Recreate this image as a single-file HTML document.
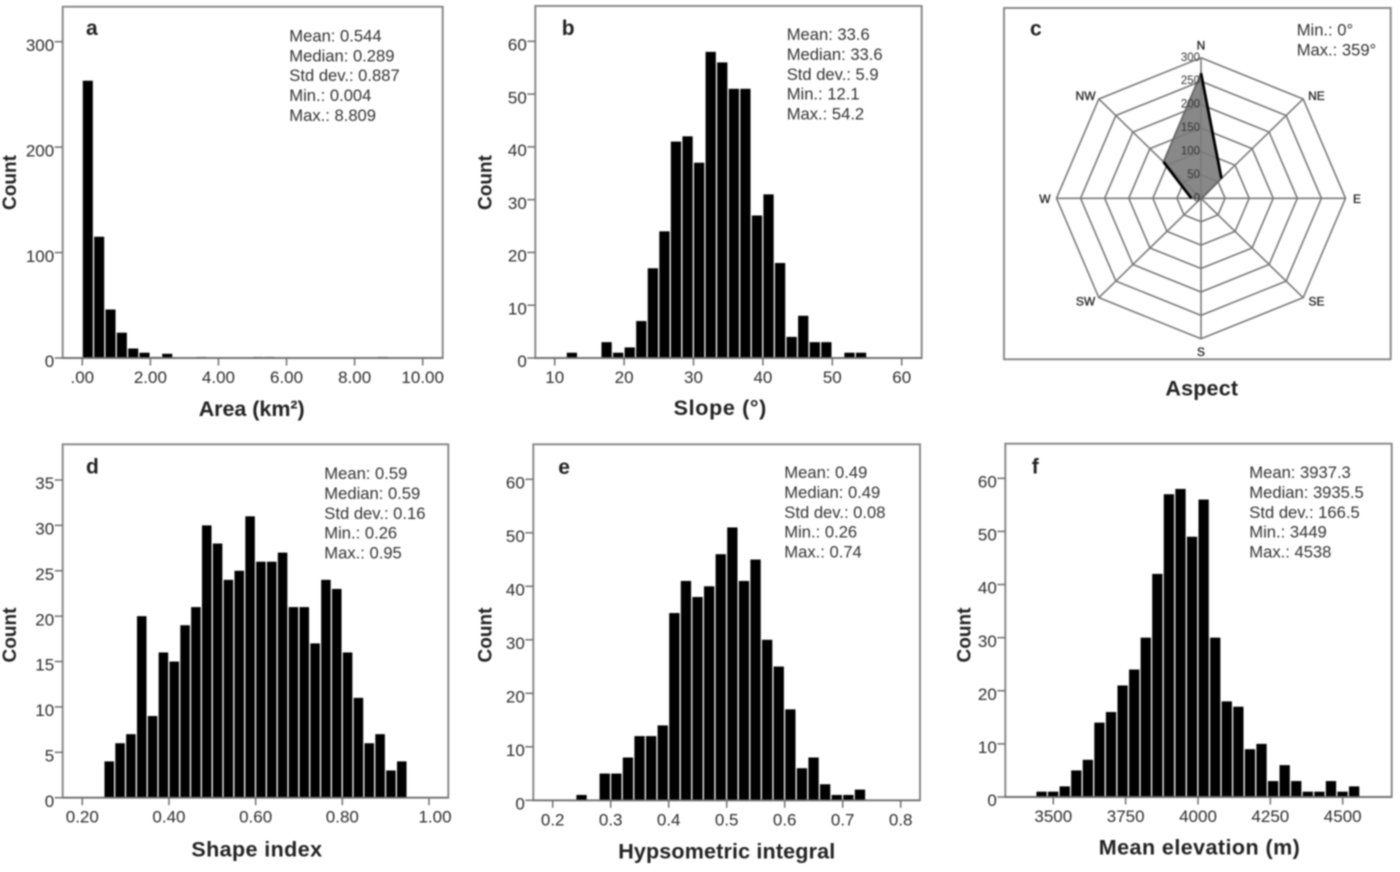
<!DOCTYPE html>
<html lang="en">
<head>
<meta charset="utf-8">
<title>Histograms of glacier morphometric attributes</title>
<style>
  html, body { margin: 0; padding: 0; background: #fff; }
  #figure { display: block; width: 1400px; height: 872px; filter: blur(0.7px); font-family: "Liberation Sans", sans-serif; }
</style>
</head>
<body>
<svg id="figure" xmlns="http://www.w3.org/2000/svg" width="1400" height="872" viewBox="0 0 1400 872">
  <rect x="0" y="0" width="1400" height="872" fill="#ffffff"></rect>
</svg>
<script>
// ---- Panel a: Area
const areaCounts = [263, 115, 46, 24, 9, 5, 1, 4, 0, 0, 1, 0, 0, 0, 0, 1, 1, 0, 0, 0, 0, 0, 0, 0, 0, 0, 1];
const areaXTicks = [0, 2, 4, 6, 8, 10];
const areaXLabels = [".00", "2.00", "4.00", "6.00", "8.00", "10.00"];
const areaYTicks = [0, 100, 200, 300];
const areaStats = ["Mean: 0.544", "Median: 0.289", "Std dev.: 0.887", "Min.: 0.004", "Max.: 8.809"];

// ---- Panel b: Slope
const slopeCounts = [0, 1, 0, 0, 3, 1, 2, 7, 17, 24, 41, 42, 37, 58, 56, 51, 51, 27, 31, 18, 4, 8, 3, 3, 0, 1, 1];
const slopeXTicks = [10, 20, 30, 40, 50, 60];
const slopeXLabels = ["10", "20", "30", "40", "50", "60"];
const slopeYTicks = [0, 10, 20, 30, 40, 50, 60];
const slopeStats = ["Mean: 33.6", "Median: 33.6", "Std dev.: 5.9", "Min.: 12.1", "Max.: 54.2"];

// ---- Panel c: Aspect (radar)
const aspectDirections = ["N", "NE", "E", "SE", "S", "SW", "W", "NW"];
const aspectCounts = [267, 60, 2, 1, 1, 2, 20, 110];
const aspectRingTicks = [50, 100, 150, 200, 250, 300];
const aspectRingLabels = ["0", "50", "100", "150", "200", "250", "300"];
const aspectStats = ["Min.: 0\u00b0", "Max.: 359\u00b0"];

// ---- Panel d: Shape index
const shapeCounts = [4, 6, 7, 20, 9, 16, 15, 19, 21, 30, 28, 24, 25, 31, 26, 26, 27, 21, 21, 17, 24, 23, 16, 11, 6, 7, 3, 4];
const shapeXTicks = [0.2, 0.4, 0.6, 0.8, 1.0];
const shapeXLabels = ["0.20", "0.40", "0.60", "0.80", "1.00"];
const shapeYTicks = [0, 5, 10, 15, 20, 25, 30, 35];
const shapeStats = ["Mean: 0.59", "Median: 0.59", "Std dev.: 0.16", "Min.: 0.26", "Max.: 0.95"];

// ---- Panel e: Hypsometric integral
const hypsoCounts = [1, 0, 5, 5, 8, 12, 12, 14, 35, 41, 38, 40, 46, 51, 41, 45, 30, 25, 17, 6, 8, 3, 1, 1, 2];
const hypsoXTicks = [0.2, 0.3, 0.4, 0.5, 0.6, 0.7, 0.8];
const hypsoXLabels = ["0.2", "0.3", "0.4", "0.5", "0.6", "0.7", "0.8"];
const hypsoYTicks = [0, 10, 20, 30, 40, 50, 60];
const hypsoStats = ["Mean: 0.49", "Median: 0.49", "Std dev.: 0.08", "Min.: 0.26", "Max.: 0.74"];

// ---- Panel f: Mean elevation
const elevCounts = [1, 1, 2, 5, 7, 14, 16, 21, 24, 30, 42, 57, 58, 49, 56, 30, 18, 17, 9, 10, 3, 6, 3, 1, 1, 3, 1, 2];
const elevXTicks = [3500, 3750, 4000, 4250, 4500];
const elevXLabels = ["3500", "3750", "4000", "4250", "4500"];
const elevYTicks = [0, 10, 20, 30, 40, 50, 60];
const elevStats = ["Mean: 3937.3", "Median: 3935.5", "Std dev.: 166.5", "Min.: 3449", "Max.: 4538"];

const svgNS = "http://www.w3.org/2000/svg";
const root = document.getElementById("figure");
const GRID_COLOR = "#7a7a7a";
const FRAME_COLOR = "#858585";
const TEXT_COLOR = "#2c2c2c";

function linear(d0, d1, p0, p1) {
  return function (v) { return p0 + (v - d0) * (p1 - p0) / (d1 - d0); };
}

function shape(parent, tag, attrs, content) {
  const el = document.createElementNS(svgNS, tag);
  for (const key in attrs) { el.setAttribute(key, attrs[key]); }
  if (content !== undefined) { el.textContent = content; }
  parent.appendChild(el);
  return el;
}

function line(parent, x1, y1, x2, y2, color, width) {
  return shape(parent, "line", { x1: x1, y1: y1, x2: x2, y2: y2, stroke: color, "stroke-width": width });
}

function addFrame(parent, f) {
  const el = shape(parent, "rect", { x: f.l, y: f.t, width: f.r - f.l, height: f.b - f.t, fill: "#ffffff", stroke: FRAME_COLOR, "stroke-width": 1.9 });
  
  
}

function addPanelLetter(parent, letter, pos) {
  const el = shape(parent, "text", { x: pos[0], y: pos[1], "font-size": 21, "font-weight": "bold", fill: "#222" }, letter);
  
  
}

function addStats(parent, lines, pos) {
  const group = shape(parent, "g", {});
  
  
  lines.forEach(function (txt, i) {
    const el = shape(group, "text", { x: pos[0], y: pos[1] + 0.7 + i * 19.9, "font-size": 16.6, fill: "#333" }, txt);
    
    
  });
}

function addXTitle(parent, label) {
  const el = shape(parent, "text", { x: label.x, y: label.y, "font-size": 21.5, "font-weight": "bold", fill: "#222", "text-anchor": "middle", textLength: label.len }, label.text);
  
  
}

function addYTitle(parent, pos) {
  const el = shape(parent, "text", { transform: "translate(" + pos[0] + "," + pos[1] + ") rotate(-90)", "font-size": 19, "font-weight": "bold", fill: "#222", "text-anchor": "middle" }, "Count");
  
  
}

function drawHistogram(cfg) {
  const panel = shape(root, "g", {});
  
  
  const f = cfg.frame;
  const xScale = linear(cfg.xAnchor[0], cfg.xAnchor[1], cfg.xAnchor[2], cfg.xAnchor[3]);
  const yScale = linear(0, cfg.yAnchor[0], f.b, cfg.yAnchor[1]);

  addFrame(panel, f);

  // Bars
  const bars = shape(panel, "g", {});
  
  
  cfg.counts.forEach(function (count, i) {
    if (count <= 0) { return; }
    const x0 = xScale(cfg.binStart + i * cfg.binWidth);
    const x1 = xScale(cfg.binStart + (i + 1) * cfg.binWidth);
    const top = yScale(count);
    const bar = shape(bars, "rect", { x: x0 + 0.5, y: top, width: x1 - x0 - 1.3, height: f.b - top, fill: "#000000" });
    
    
  });

  // Baseline
  const base = line(panel, f.l, f.b, f.r, f.b, "#6f6f6f", 1.7);
  
  

  // Y axis
  cfg.yTicks.forEach(function (v) {
    const y = yScale(v);
    const t = line(panel, f.l - 8, y, f.l, y, "#6f6f6f", 1.5);
    
    
    const lab = shape(panel, "text", { x: f.l - 8.5, y: y + 9.2, "font-size": 17, fill: TEXT_COLOR, "text-anchor": "end" }, String(v));
    
    
  });

  // X axis
  cfg.xTicks.forEach(function (v, i) {
    const x = xScale(v);
    const t = line(panel, x, f.b, x, f.b + 7.5, "#6f6f6f", 1.5);
    
    
    const shift = (i === cfg.xTicks.length - 1 && cfg.lastLabelShift) ? cfg.lastLabelShift : 0;
    const lab = shape(panel, "text", { x: x + shift, y: f.b + 25, "font-size": 17, fill: TEXT_COLOR, "text-anchor": "middle" }, cfg.xLabels[i]);
    
    
  });

  addPanelLetter(panel, cfg.letter, cfg.letterPos);
  addStats(panel, cfg.stats, cfg.statsPos);
  addXTitle(panel, cfg.xTitle);
  addYTitle(panel, cfg.yTitlePos);
}

function drawRadar() {
  const panel = shape(root, "g", {});
  
  
  const f = { l: 1004, r: 1390.7, t: 8, b: 359.3 };
  const cx = 1201, cy = 198.3, rx = 144.5, ry = 140.5, maxV = 300;
  addFrame(panel, f);

  function point(dirIndex, value, fx, fy) {
    const angle = dirIndex * Math.PI / 4;
    const k = value / maxV;
    return [cx + rx * k * (fx || 1) * Math.sin(angle), cy - ry * k * (fy || 1) * Math.cos(angle)];
  }
  function pointList(values) {
    return values.map(function (v, i) { return point(i, v).join(","); }).join(" ");
  }

  // Filled data polygon
  const area = shape(panel, "polygon", { points: pointList(aspectCounts), fill: "#888888", stroke: "none" });
  
  

  // Rings
  aspectRingTicks.forEach(function (v) {
    const ring = shape(panel, "polygon", { points: pointList(aspectDirections.map(function () { return v; })), fill: "none", stroke: GRID_COLOR, "stroke-width": 1.6 });
    
    
  });

  // Spokes and compass labels
  aspectDirections.forEach(function (dir, i) {
    const end = point(i, maxV);
    const spoke = line(panel, cx, cy, end[0], end[1], GRID_COLOR, 1.6);
    
    
    const lp = i % 2 ? point(i, maxV, 1.13, 1.035) : point(i, maxV, 1.08, 1.09);
    const lab = shape(panel, "text", { x: lp[0], y: lp[1] + 4.5, "font-size": 12, fill: "#222", "text-anchor": "middle", stroke: "#222", "stroke-width": 0.3 }, dir);
    
    
  });

  // Outline: heavier grey overall, black on the N-NE and NW-W edges
  const outline = shape(panel, "polygon", { points: pointList(aspectCounts), fill: "none", stroke: "#666", "stroke-width": 1.8 });
  
  
  const n = point(0, aspectCounts[0]), ne = point(1, aspectCounts[1]);
  const w = point(6, aspectCounts[6]), nw = point(7, aspectCounts[7]);
  const edge1 = line(panel, n[0], n[1], ne[0], ne[1], "#000", 2.8);
  
  
  const edge2 = line(panel, nw[0], nw[1], w[0], w[1], "#000", 2.8);
  
  

  // Ring value labels
  aspectRingLabels.forEach(function (txt, i) {
    const y = point(0, i * 50)[1];
    const lab = shape(panel, "text", { x: cx - 1, y: y + 3, "font-size": 11.5, fill: "#333", "text-anchor": "end" }, txt);
    
    
  });

  addPanelLetter(panel, "c", [1030, 35.7]);
  addStats(panel, aspectStats, [1296.7, 35]);
  addXTitle(panel, { text: "Aspect", x: 1201.7, y: 395.7, len: 72.7 });
}

drawHistogram({
  name: "panel-a-area", letter: "a", letterPos: [86, 35],
  frame: { l: 62.7, r: 442.7, t: 6.7, b: 358 },
  counts: areaCounts, binStart: 0, binWidth: 1 / 3,
  xAnchor: [0, 10, 82.3, 422.7], yAnchor: [300, 41.7],
  xTicks: areaXTicks, xLabels: areaXLabels, yTicks: areaYTicks,
  stats: areaStats, statsPos: [289.3, 40.7],
  xTitle: { text: "Area (km\u00b2)", x: 251.7, y: 416, len: 106 }, yTitlePos: [16, 182.5]
});

drawHistogram({
  name: "panel-b-slope", letter: "b", letterPos: [561.7, 35],
  frame: { l: 535.3, r: 921.7, t: 6, b: 358 },
  counts: slopeCounts, binStart: 10, binWidth: 5 / 3,
  xAnchor: [10, 60, 554.7, 901.7], yAnchor: [60, 41.3],
  xTicks: slopeXTicks, xLabels: slopeXLabels, yTicks: slopeYTicks,
  stats: slopeStats, statsPos: [786.7, 39.3],
  xTitle: { text: "Slope (\u00b0)", x: 720, y: 415, len: 92.7 }, yTitlePos: [491.7, 182.5]
});

drawRadar();

drawHistogram({
  name: "panel-d-shape-index", letter: "d", letterPos: [86, 473.3],
  frame: { l: 62.7, r: 448.3, t: 444.3, b: 797.7 },
  counts: shapeCounts, binStart: 0.25, binWidth: 0.025,
  xAnchor: [0.2, 1.0, 82.3, 429], yAnchor: [35, 480],
  xTicks: shapeXTicks, xLabels: shapeXLabels, yTicks: shapeYTicks, lastLabelShift: 6,
  stats: shapeStats, statsPos: [324.3, 478.3],
  xTitle: { text: "Shape index", x: 256.7, y: 856.7, len: 130.7 }, yTitlePos: [16, 635]
});

drawHistogram({
  name: "panel-e-hypsometric-integral", letter: "e", letterPos: [558.3, 474],
  frame: { l: 533.3, r: 920, t: 444.3, b: 800.3 },
  counts: hypsoCounts, binStart: 0.24, binWidth: 0.02,
  xAnchor: [0.2, 0.8, 552.7, 900.7], yAnchor: [60, 479.3],
  xTicks: hypsoXTicks, xLabels: hypsoXLabels, yTicks: hypsoYTicks,
  stats: hypsoStats, statsPos: [784.3, 477.3],
  xTitle: { text: "Hypsometric integral", x: 726.7, y: 858.3, len: 217 }, yTitlePos: [491.7, 635]
});

drawHistogram({
  name: "panel-f-mean-elevation", letter: "f", letterPos: [1031.7, 473.3],
  frame: { l: 1005.3, r: 1391.7, t: 443.7, b: 797 },
  counts: elevCounts, binStart: 3440, binWidth: 40,
  xAnchor: [3500, 4500, 1053.3, 1342.7], yAnchor: [60, 478.3],
  xTicks: elevXTicks, xLabels: elevXLabels, yTicks: elevYTicks,
  stats: elevStats, statsPos: [1249.3, 477.3],
  xTitle: { text: "Mean  elevation (m)", x: 1199.3, y: 854.3, len: 201 }, yTitlePos: [970.7, 635]
});
</script>
</body>
</html>
